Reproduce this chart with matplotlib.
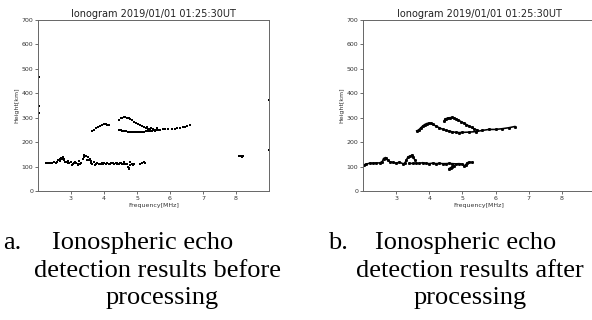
"""Two ionograms side by side: echo detection before and after processing."""
import matplotlib

matplotlib.use("Agg")
import matplotlib.pyplot as plt  # noqa: E402

TITLE = "Ionogram 2019/01/01 01:25:30UT"
X_TICKS = [3, 4, 5, 6, 7, 8]
Y_TICKS = [0, 100, 200, 300, 400, 500, 600, 700]

# ---- panel a: raw detections (individual echo points) ----
E_BEFORE_F = [2.24, 2.3, 2.36, 2.42, 2.48, 2.54, 2.58, 2.62, 2.66, 2.7,
              2.74, 2.78, 2.82, 2.86, 2.9, 2.95, 3.0, 3.05, 3.1, 3.15,
              3.2, 3.25, 3.3, 3.35, 3.4, 3.45, 3.5, 3.55, 3.6, 3.65,
              3.7, 3.75, 3.8, 3.85, 3.9, 3.95, 4.0, 4.05, 4.1, 4.15,
              4.2, 4.25, 4.3, 4.35, 4.4, 4.45, 4.5, 4.55, 4.6, 4.65,
              4.7, 4.75, 4.8, 4.85, 4.9, 5.1, 5.15, 5.2, 5.25]
E_BEFORE_H = [116, 114, 115, 113, 117, 116, 120, 128, 133, 136,
              132, 125, 120, 118, 116, 114, 118, 112, 115, 113,
              110, 121, 116, 130, 140, 145, 138, 125, 115, 112,
              118, 110, 113, 112, 111, 113, 114, 112, 113, 112,
              114, 113, 112, 114, 113, 111, 113, 112, 114, 110,
              112, 95, 118, 110, 112, 112, 116, 118, 115]
E_EXTRA_F = [2.68, 2.76, 2.8, 2.92, 3.02, 3.12, 3.22, 3.28, 3.38, 3.48,
             3.58, 3.62, 3.72, 3.78, 3.88, 3.98, 4.08, 4.18, 4.28, 4.38,
             4.48, 4.58, 4.62, 4.72, 4.76, 4.8, 4.88]
E_EXTRA_H = [124, 138, 130, 122, 108, 120, 105, 112, 148, 128,
             130, 122, 108, 115, 109, 110, 116, 109, 116, 110,
             116, 109, 120, 100, 90, 105, 108]
F1_BEFORE_F = [3.64, 3.7, 3.76, 3.82, 3.88, 3.94, 4.0, 4.05, 4.1, 4.14]
F1_BEFORE_H = [246, 250, 256, 262, 268, 272, 275, 274, 272, 272]
FUP_BEFORE_F = [4.46, 4.5, 4.55, 4.6, 4.65, 4.7, 4.75, 4.8, 4.86, 4.92,
                4.98, 5.04, 5.1, 5.16, 5.22, 5.28, 5.34, 5.4]
FUP_BEFORE_H = [290, 297, 299, 301, 302, 300, 297, 293, 289, 284,
                280, 276, 271, 266, 262, 258, 255, 252]
FLO_BEFORE_F = [4.44, 4.5, 4.56, 4.62, 4.68, 4.74, 4.8, 4.86, 4.92, 4.98,
                5.04, 5.1, 5.16, 5.22, 5.28, 5.34, 5.4, 5.46, 5.52, 5.58,
                5.64, 5.7, 5.78, 5.86, 5.95, 6.05, 6.15, 6.22, 6.3, 6.38,
                6.45, 6.52, 6.6]
FLO_BEFORE_H = [250, 248, 246, 245, 244, 243, 242, 241, 240, 240,
                240, 241, 242, 243, 244, 245, 246, 247, 248, 249,
                250, 251, 252, 253, 253, 254, 253, 256, 257, 260,
                262, 265, 270]
CLUSTER_F = [5.3, 5.36, 5.42, 5.48, 5.55, 5.62, 8.1, 8.14, 8.18, 8.2,
             2.02, 2.02, 2.02, 9.0, 9.0]
CLUSTER_H = [262, 250, 258, 252, 244, 256, 142, 145, 140, 143,
             465, 350, 320, 373, 168]

# ---- panel b: processed traces (connected) ----
EA_AFTER_F = [2.02, 2.1, 2.2, 2.3, 2.4, 2.5, 2.58, 2.62, 2.68, 2.74, 2.8,
              2.9, 3.0, 3.1, 3.2, 3.26, 3.3, 3.36, 3.42, 3.48, 3.52, 3.56]
EA_AFTER_H = [107, 110, 114, 114, 115, 115, 120, 133, 137, 126, 120,
              117, 114, 118, 112, 113, 125, 140, 143, 147, 138, 128]
EB_AFTER_F = [3.4, 3.5, 3.6, 3.7, 3.8, 3.9, 4.0, 4.1, 4.2, 4.3, 4.4,
              4.5, 4.6, 4.7, 4.8, 4.9, 5.0, 5.05, 5.1, 5.15, 5.2, 5.28]
EB_AFTER_H = [113, 113, 114, 113, 116, 113, 112, 114, 112, 113, 112,
              112, 113, 112, 111, 112, 110, 103, 108, 116, 118, 117]
EC_AFTER_F = [4.6, 4.65, 4.7, 4.75]
EC_AFTER_H = [92, 96, 100, 104]
F_AFTER_F = [3.62, 3.68, 3.74, 3.8, 3.86, 3.92, 3.98, 4.04, 4.1, 4.2,
             4.3, 4.4, 4.5, 4.6, 4.7, 4.8, 4.9, 5.0, 5.2, 5.4, 5.6,
             5.8, 6.0, 6.2, 6.4, 6.58]
F_AFTER_H = [246, 250, 258, 266, 272, 276, 278, 277, 273, 266,
             259, 253, 248, 245, 242, 240, 239, 240, 241, 243, 248,
             252, 252, 255, 259, 264]
FUP_AFTER_F = [4.45, 4.47, 4.5, 4.56, 4.62, 4.68, 4.74, 4.8, 4.88, 4.96,
               5.04, 5.12, 5.2, 5.28, 5.36, 5.43]
FUP_AFTER_H = [286, 294, 296, 299, 300, 301, 299, 296, 290, 284,
               278, 272, 266, 260, 254, 250]

CAPTION_A = ["Ionospheric echo", "detection results before", "processing"]
CAPTION_B = ["Ionospheric echo", "detection results after", "processing"]

SPINE = "#666666"
TXT = "#333333"


def style_axes(ax):
    ax.set_xlim(2, 9)
    ax.set_ylim(0, 700)
    ax.set_xticks(X_TICKS)
    ax.set_yticks(Y_TICKS)
    ax.tick_params(labelsize=4.5, length=2, width=0.5, pad=1.5,
                   colors=TXT)
    for sp in ax.spines.values():
        sp.set_color(SPINE)
        sp.set_linewidth(0.7)
    ax.set_title(TITLE, fontsize=7, color="#222222", pad=2)
    ax.set_xlabel("Frequency[MHz]", fontsize=4.5, color=TXT, labelpad=1.5)
    ax.set_ylabel("Height[km]", fontsize=4.5, color=TXT, labelpad=1.5)


fig = plt.figure(figsize=(5.92, 3.2), dpi=100)
ax_a = fig.add_axes([38 / 592, 1 - 191 / 320, 231 / 592, 171 / 320])
ax_b = fig.add_axes([363 / 592, 1 - 191 / 320, 232 / 592, 171 / 320])

dot = dict(color="black", s=2.2, marker="s", linewidths=0)
for f, h in ((E_BEFORE_F, E_BEFORE_H), (E_EXTRA_F, E_EXTRA_H),
             (F1_BEFORE_F, F1_BEFORE_H), (FUP_BEFORE_F, FUP_BEFORE_H),
             (FLO_BEFORE_F, FLO_BEFORE_H), (CLUSTER_F, CLUSTER_H)):
    ax_a.scatter(f, h, **dot)
style_axes(ax_a)

for f, h in ((EA_AFTER_F, EA_AFTER_H), (EB_AFTER_F, EB_AFTER_H),
             (EC_AFTER_F, EC_AFTER_H), (F_AFTER_F, F_AFTER_H),
             (FUP_AFTER_F, FUP_AFTER_H)):
    ax_b.plot(f, h, color="black", lw=1.15, marker="s", ms=1.1,
              solid_joinstyle="round")
style_axes(ax_b)

serif = dict(family="Liberation Serif", fontsize=19, color="black",
             va="baseline")
y1, y2, y3 = 1 - 249 / 320, 1 - 277 / 320, 1 - 304 / 320
fig.text(3 / 592, y1, "a.", ha="left", **serif)
fig.text(52 / 592, y1, CAPTION_A[0], ha="left", **serif)
fig.text(157 / 592, y2, CAPTION_A[1], ha="center", **serif)
fig.text(162 / 592, y3, CAPTION_A[2], ha="center", **serif)
fig.text(328 / 592, y1, "b.", ha="left", **serif)
fig.text(375 / 592, y1, CAPTION_B[0], ha="left", **serif)
fig.text(470 / 592, y2, CAPTION_B[1], ha="center", **serif)
fig.text(470 / 592, y3, CAPTION_B[2], ha="center", **serif)

fig.savefig("out.png", dpi=100)
